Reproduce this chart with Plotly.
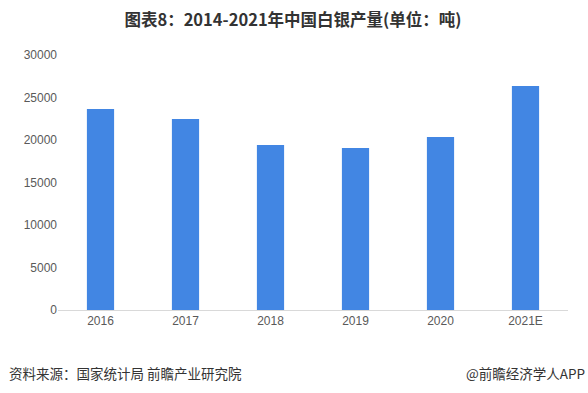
import plotly.graph_objects as go

years = ["2016", "2017", "2018", "2019", "2020", "2021E"]
output_tons = [23650, 22470, 19400, 19060, 20350, 26350]
y_ticks = [0, 5000, 10000, 15000, 20000, 25000, 30000]

fig = go.Figure()
fig.add_trace(go.Bar(x=years, y=output_tons, marker_color="#4286E3", marker_line_width=0))

fig.update_layout(
    width=588, height=393,
    margin=dict(l=58, r=20, t=55, b=83, autoexpand=False),
    paper_bgcolor="white", plot_bgcolor="white",
    bargap=0.68,
    showlegend=False,
    font=dict(family="Liberation Sans, Arial, sans-serif", size=12, color="#595959"),
    title=dict(text="<b>图表8：2014-2021年中国白银产量(单位：吨)</b>", x=293/588, xanchor="center",
               y=1 - 20/393, yanchor="middle",
               font=dict(family="Noto Sans CJK SC", size=16.5, color="#333333")),
)
fig.update_xaxes(showline=True, linecolor="#d9d9d9", linewidth=1, ticks="", showgrid=False,
                 automargin=False, tickfont=dict(size=12, color="#595959"))
fig.update_yaxes(range=[0, 30000], tickvals=y_ticks, tickformat="d", showgrid=False, zeroline=False,
                 showline=False, ticks="", automargin=False, tickfont=dict(size=12, color="#595959"))

fig.add_annotation(text="资料来源：国家统计局 前瞻产业研究院", xref="paper", yref="paper",
                   x=-51/510, y=-(373-310)/255, xanchor="left", yanchor="middle", showarrow=False,
                   font=dict(family="Noto Sans CJK SC", size=13.5, color="#333333"))
fig.add_annotation(text="@前瞻经济学人APP", xref="paper", yref="paper",
                   x=(587-58)/510, y=-(373-310)/255, xanchor="right", yanchor="middle", showarrow=False,
                   font=dict(family="Noto Sans CJK SC", size=13.5, color="#333333"))

fig.write_html("out.html", config={"displayModeBar": False},
               post_script="document.body.style.margin='0';document.body.style.overflow='hidden';")
